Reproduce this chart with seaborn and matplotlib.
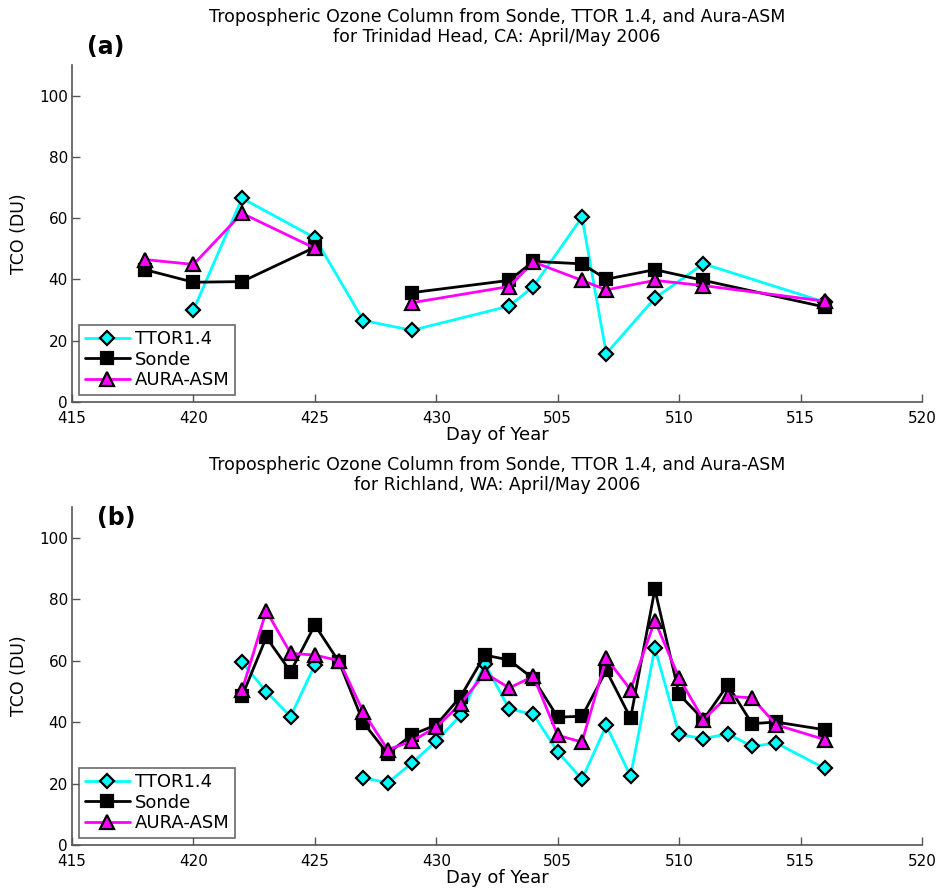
import numpy as np
import pandas as pd
import matplotlib
matplotlib.use("Agg")
import matplotlib.pyplot as plt
from matplotlib.lines import Line2D
import seaborn as sns

# ---------------- data ----------------
# day codes: 4dd = April dd, 5dd = May dd
days_a = [418, 420, 422, 425, 427, 429, 503, 504, 506, 507, 509, 511, 516]
ttor_a = [np.nan, 30, 66.5, 53.6, 26.6, 23.4, 31.3, 37.7, 60.3, 15.8, 33.9, 45.1, 32.6]
sonde_a = [43.2, 39.1, 39.3, 50.5, np.nan, 35.7, 39.7, 45.9, 45.1, 40.1, 43.2, 39.7, 31.0]
aura_a = [46.5, 44.9, 61.6, 50.2, np.nan, 32.4, 37.7, 45.7, 39.7, 36.6, 39.7, 38.0, 32.9]

days_b = [422, 423, 424, 425, 426, 427, 428, 429, 430, 431, 432,
          503, 504, 505, 506, 507, 508, 509, 510, 511, 512, 513, 514, 516]
ttor_b = [59.5, 49.9, 41.8, 58.6, np.nan, 21.9, 20.2, 26.7, 33.8, 42.2, 59.0,
          44.3, 42.5, 30.3, 21.4, 38.9, 22.4, 64.1, 36.0, 34.6, 36.2, 32.1, 33.2, 24.9]
sonde_b = [48.4, 67.6, 56.4, 71.6, 59.5, 39.8, 29.7, 35.9, 39.1, 48.3, 61.8,
           60.2, 54.1, 41.6, 41.9, 56.8, 41.3, 83.2, 49.0, 40.8, 52.1, 39.5, 40.0, 37.5]
aura_b = [50.3, 76.2, 62.4, 61.8, 60.0, 43.2, 31.0, 33.8, 38.4, 45.9, 56.0,
          51.1, 54.9, 35.7, 33.5, 60.8, 50.5, 73.0, 54.3, 40.8, 48.4, 47.9, 39.1, 34.3]

tick_labels = ["415", "420", "425", "430", "505", "510", "515", "520"]
series_names = ["TTOR1.4", "Sonde", "AURA-ASM"]

titles = [
    "Tropospheric Ozone Column from Sonde, TTOR 1.4, and Aura-ASM\nfor Trinidad Head, CA: April/May 2006",
    "Tropospheric Ozone Column from Sonde, TTOR 1.4, and Aura-ASM\nfor Richland, WA: April/May 2006",
]
panel_tags = ["(a)", "(b)"]


def to_pos(d):
    # April day -> d, May day -> 430 + day-of-May (continuous axis)
    return d if d < 500 else 430 + (d - 500)


styles = {
    "TTOR1.4": dict(color="#00FFFF", marker="D", markersize=7.5, markerfacecolor="#00FFFF"),
    "Sonde": dict(color="black", marker="s", markersize=8, markerfacecolor="black"),
    "AURA-ASM": dict(color="#FF00FF", marker="^", markersize=9.5, markerfacecolor="#FF00FF"),
}

sns.set_theme(style="ticks")
plt.rcParams["font.family"] = ["DejaVu Sans"]
plt.rcParams["xtick.direction"] = "in"
plt.rcParams["ytick.direction"] = "in"
for k in ["text.color", "axes.labelcolor", "xtick.labelcolor", "ytick.labelcolor"]:
    plt.rcParams[k] = "black"

fig = plt.figure(figsize=(9.4, 8.9), dpi=100)
W, H = 940, 890
ax_a = fig.add_axes([72 / W, 1 - 402 / H, 850 / W, 337 / H])
ax_b = fig.add_axes([72 / W, 1 - 845 / H, 850 / W, 338 / H])

panels = [
    (ax_a, days_a, [ttor_a, sonde_a, aura_a]),
    (ax_b, days_b, [ttor_b, sonde_b, aura_b]),
]

for i, (ax, days, vals) in enumerate(panels):
    for name, v in zip(series_names, vals):
        df = pd.DataFrame({"pos": [to_pos(d) for d in days], "val": v})
        df["seg"] = df["val"].isna().cumsum()
        df = df.dropna()
        st = styles[name]
        sns.lineplot(data=df, x="pos", y="val", units="seg", estimator=None,
                     sort=False, ax=ax, color=st["color"], linewidth=2,
                     marker=st["marker"], markersize=st["markersize"],
                     markerfacecolor=st["markerfacecolor"],
                     markeredgecolor="black", markeredgewidth=1.6,
                     legend=False)
    ax.set_xlim(415, 450)
    ax.set_ylim(0, 110)
    ax.set_xticks(np.arange(415, 451, 5))
    ax.set_xticklabels(tick_labels)
    ax.set_yticks([0, 20, 40, 60, 80, 100])
    ax.tick_params(axis="both", labelsize=11, length=6, width=1,
                   color="#555555")
    ax.tick_params(axis="x", pad=6.5)
    ax.tick_params(axis="y", pad=3)
    for s in ["top", "right"]:
        ax.spines[s].set_visible(False)
    for s in ["left", "bottom"]:
        ax.spines[s].set_color("#555555")
        ax.spines[s].set_linewidth(1.2)
    ax.set_xlabel("Day of Year", fontsize=13, labelpad=0)
    ax.set_ylabel("TCO (DU)", fontsize=12.5, labelpad=8)

    handles = [Line2D([0], [0], color=styles[n]["color"], linewidth=2,
                      marker=styles[n]["marker"], markersize=styles[n]["markersize"],
                      markerfacecolor=styles[n]["markerfacecolor"],
                      markeredgecolor="black", markeredgewidth=1.6)
               for n in series_names]
    leg = ax.legend(handles, series_names, loc="lower left", fontsize=13,
                    frameon=True, fancybox=False, edgecolor="#444444",
                    handlelength=2.5, borderaxespad=0.4, labelspacing=0.15,
                    handletextpad=0.3, borderpad=0.3)
    leg.get_frame().set_linewidth(1.2)

fig.text(497 / W, 1 - 27 / H, titles[0], ha="center", va="center",
         fontsize=12.5, linespacing=1.15)
fig.text(497 / W, 1 - 475 / H, titles[1], ha="center", va="center",
         fontsize=12.5, linespacing=1.15)
fig.text(106 / W, 1 - 47 / H, panel_tags[0], ha="center", va="center",
         fontsize=17, fontweight="bold")
fig.text(116 / W, 1 - 518 / H, panel_tags[1], ha="center", va="center",
         fontsize=17, fontweight="bold")

fig.savefig("out.png", dpi=100, facecolor="white")
